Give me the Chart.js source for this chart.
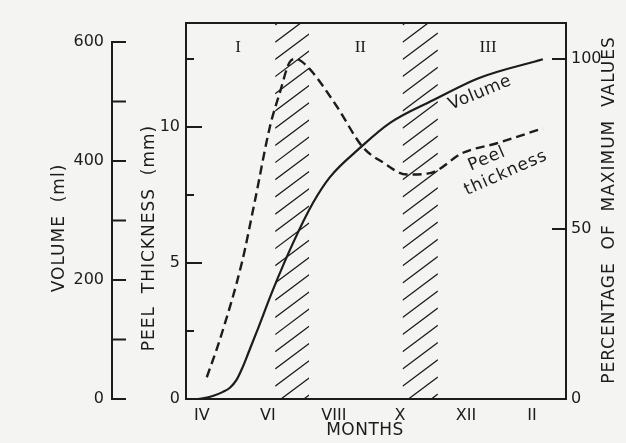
<!DOCTYPE html>
<html>
<head>
<meta charset="utf-8">
<title>Volume and peel thickness by month</title>
<script src="https://cdn.jsdelivr.net/npm/chart.js@4.4.0/dist/chart.umd.min.js"></script>
<style>
  html, body { margin: 0; padding: 0; background: #f4f4f2; }
  #wrap { width: 626px; height: 443px; }
</style>
</head>
<body>
<div id="wrap"><canvas id="chart"></canvas></div>
<script>
// months counted from January = 1, so II of the following year is 14
const volMonths = [3.88, 4.03, 4.33, 4.64, 4.85, 5.06, 5.24, 5.42, 5.67, 6.15, 6.76, 7.36, 7.88, 8.79, 9.7, 11.0, 12.42, 14.33];
const volumeMl  = [0, 1, 5, 12, 19, 33, 54, 79, 114, 183, 262, 329, 373, 422, 464, 502, 540, 571];

const peelMonths = [4.15, 4.55, 5.21, 5.61, 6.06, 6.36, 6.67, 6.85, 7.03, 7.36, 8.09, 8.88, 9.48, 10.21, 10.91, 11.91, 12.94, 14.33];
const peelMm     = [0.8, 2.2, 5.0, 7.3, 10.0, 11.25, 12.4, 12.5, 12.4, 12.0, 10.75, 9.25, 8.7, 8.25, 8.3, 9.05, 9.4, 9.95];

const monthTicks  = [4, 6, 8, 10, 12, 14];
const monthLabels = ['IV', 'VI', 'VIII', 'X', 'XII', 'II'];
const volumeTicks  = [0, 100, 200, 300, 400, 500, 600];
const volumeLabels = [0, 200, 400, 600];
const thicknessTicks  = [2.5, 5, 7.5, 10, 12.5];
const thicknessLabels = [0, 5, 10];
const percentTicks  = [50, 100];
const percentLabels = [0, 50, 100];

// hatched transition periods (months)
const hatchBands = [[6.22, 7.25], [10.08, 11.15]];
const periodNames   = ['I', 'II', 'III'];
const periodCentres = [5.1, 8.8, 12.67];

const INK = '#1c1c1c';
const SANS = '"DejaVu Sans", sans-serif';

function vText(ctx, text, x, y, rot) {
  ctx.save();
  ctx.translate(x, y);
  ctx.rotate(rot);
  ctx.textAlign = 'center';
  ctx.textBaseline = 'middle';
  ctx.fillText(text, 0, 0);
  ctx.restore();
}

const hatchPlugin = {
  id: 'hatch',
  beforeDatasetsDraw(chart) {
    const { ctx, chartArea: a, scales: { x } } = chart;
    ctx.save();
    ctx.strokeStyle = INK;
    ctx.lineWidth = 1.3;
    hatchBands.forEach(([m1, m2]) => {
      const x1 = x.getPixelForValue(m1), x2 = x.getPixelForValue(m2);
      const w = x2 - x1, rise = w * 0.75;
      ctx.save();
      ctx.beginPath();
      ctx.rect(x1, a.top + 1, w, a.bottom - a.top - 1);
      ctx.clip();
      ctx.beginPath();
      for (let y = a.top + 2; y < a.bottom + rise; y += 17.2) {
        ctx.moveTo(x1, y);
        ctx.lineTo(x2, y - rise);
      }
      ctx.stroke();
      ctx.restore();
    });
    ctx.restore();
  }
};

const decorPlugin = {
  id: 'decor',
  afterDraw(chart) {
    const { ctx, chartArea: a, scales } = chart;
    const { x, vol, mm, pct } = scales;
    ctx.save();
    ctx.strokeStyle = INK;
    ctx.fillStyle = INK;
    ctx.lineWidth = 2;

    // frame top
    ctx.beginPath();
    ctx.moveTo(a.left - 1, a.top);
    ctx.lineTo(a.right + 1, a.top);
    ctx.stroke();

    // separate volume axis
    const vx = vol.right;
    ctx.beginPath();
    ctx.moveTo(vx, vol.getPixelForValue(0) + 1);
    ctx.lineTo(vx, vol.getPixelForValue(600) - 1);
    volumeTicks.forEach(v => {
      const y = vol.getPixelForValue(v);
      ctx.moveTo(vx, y);
      ctx.lineTo(vx + 14, y);
    });
    ctx.stroke();

    // inward ticks for thickness and percentage
    ctx.beginPath();
    thicknessTicks.forEach(v => {
      const y = mm.getPixelForValue(v);
      ctx.moveTo(a.left, y);
      ctx.lineTo(a.left + (v % 5 === 0 ? 16 : 8), y);
    });
    percentTicks.forEach(v => {
      const y = pct.getPixelForValue(v);
      ctx.moveTo(a.right, y);
      ctx.lineTo(a.right - 14, y);
    });
    ctx.stroke();

    // axis titles
    ctx.font = '17px ' + SANS;
    ctx.letterSpacing = '1px';
    vText(ctx, 'VOLUME  (ml)', 60, 228, -Math.PI / 2);
    vText(ctx, 'PEEL  THICKNESS  (mm)', 150, 238, -Math.PI / 2);
    vText(ctx, 'PERCENTAGE  OF  MAXIMUM  VALUES', 610, 210, -Math.PI / 2);
    ctx.letterSpacing = '0.5px';
    vText(ctx, 'MONTHS', 365, 431, 0);

    // curve labels
    ctx.font = '17px ' + SANS;
    ctx.letterSpacing = '0.5px';
    vText(ctx, 'Volume', 480, 93, -22.5 * Math.PI / 180);
    ctx.letterSpacing = '1px';
    vText(ctx, 'Peel', 487, 159, -23 * Math.PI / 180);
    vText(ctx, 'thickness', 506, 173, -24 * Math.PI / 180);

    // period numerals
    ctx.letterSpacing = '0px';
    ctx.font = '17px "Liberation Serif", serif';
    periodNames.forEach((n, i) => {
      vText(ctx, n, x.getPixelForValue(periodCentres[i]), 48, 0);
    });
    ctx.restore();
  }
};

const tickFont = { family: SANS, size: 16 };

new Chart(document.getElementById('chart'), {
  type: 'line',
  data: {
    datasets: [
      {
        label: 'Peel thickness',
        yAxisID: 'mm',
        data: peelMonths.map((m, i) => ({ x: m, y: peelMm[i] })),
        borderColor: INK,
        borderWidth: 2.4,
        borderDash: [9, 5],
        pointRadius: 0,
        cubicInterpolationMode: 'monotone',
        fill: false
      },
      {
        label: 'Volume',
        yAxisID: 'vol',
        data: volMonths.map((m, i) => ({ x: m, y: volumeMl[i] })),
        borderColor: INK,
        borderWidth: 2.2,
        pointRadius: 0,
        cubicInterpolationMode: 'monotone',
        fill: false
      }
    ]
  },
  options: {
    responsive: true,
    maintainAspectRatio: false,
    animation: false,
    layout: { padding: { top: 23, left: 0, right: 0, bottom: 0 } },
    plugins: { legend: { display: false }, tooltip: { enabled: false } },
    scales: {
      x: {
        type: 'linear',
        min: 3.52,
        max: 15.03,
        afterBuildTicks: s => { s.ticks = monthTicks.map(v => ({ value: v })); },
        afterFit: s => { s.height = 44; },
        ticks: {
          color: INK, font: tickFont, padding: 7, autoSkip: false, maxRotation: 0,
          callback: v => monthLabels[monthTicks.indexOf(v)]
        },
        grid: { display: false, drawTicks: false },
        border: { display: true, color: INK, width: 2 }
      },
      vol: {
        type: 'linear',
        position: 'left',
        weight: 1,
        min: 0,
        max: 632,
        afterBuildTicks: s => { s.ticks = volumeLabels.map(v => ({ value: v })); },
        afterFit: s => { s.width = 112; },
        ticks: { color: INK, font: tickFont, padding: 8 },
        grid: { display: false, drawTicks: false },
        border: { display: false }
      },
      mm: {
        type: 'linear',
        position: 'left',
        weight: 0,
        min: 0,
        max: 13.82,
        afterBuildTicks: s => { s.ticks = thicknessLabels.map(v => ({ value: v })); },
        afterFit: s => { s.width = 74; },
        ticks: { color: INK, font: tickFont, padding: 6 },
        grid: { display: false, drawTicks: false },
        border: { display: true, color: INK, width: 2 }
      },
      pct: {
        type: 'linear',
        position: 'right',
        min: 0,
        max: 110.6,
        afterBuildTicks: s => { s.ticks = percentLabels.map(v => ({ value: v })); },
        afterFit: s => { s.width = 60; },
        ticks: { color: INK, font: tickFont, padding: 5 },
        grid: { display: false, drawTicks: false },
        border: { display: true, color: INK, width: 2 }
      }
    }
  },
  plugins: [hatchPlugin, decorPlugin]
});
</script>
</body>
</html>
